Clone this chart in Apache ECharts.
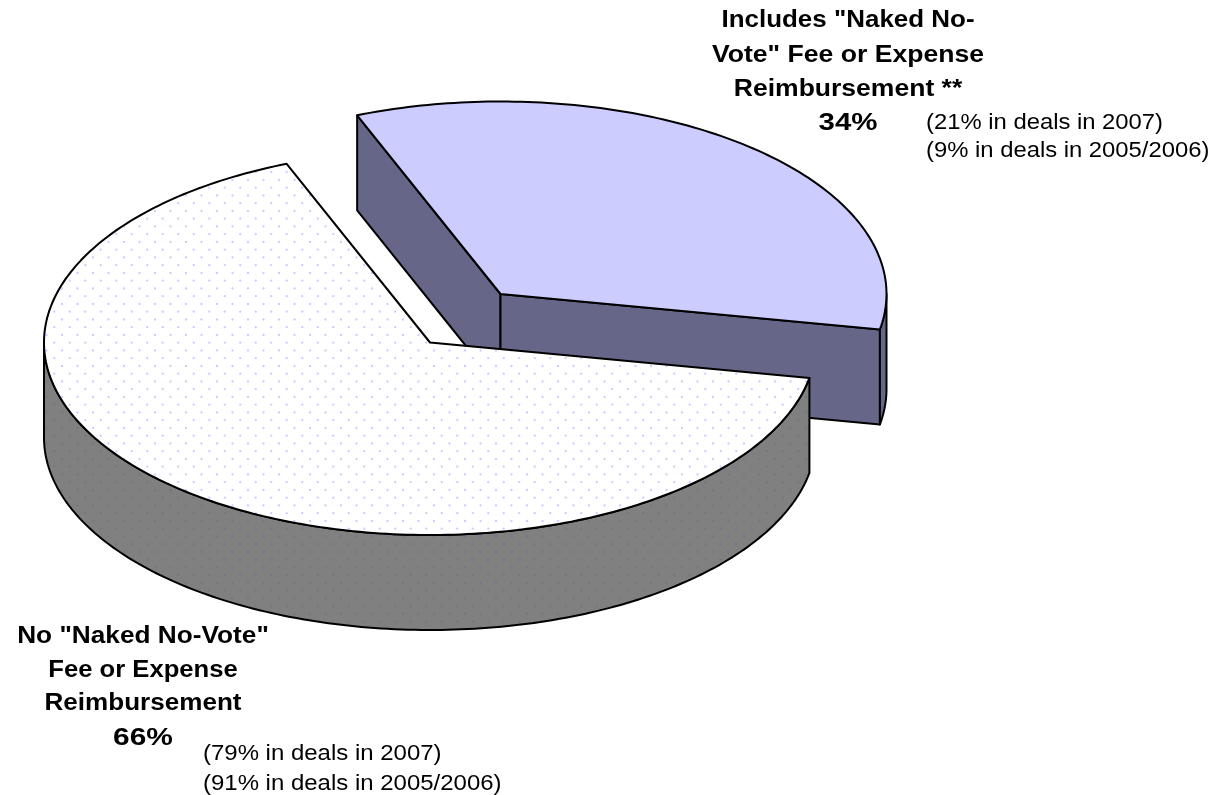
<!DOCTYPE html>
<html>
<head>
<meta charset="utf-8">
<style>html,body{margin:0;padding:0;background:#fff}#c{width:1218px;height:795px}</style>
<script src="https://cdn.jsdelivr.net/npm/echarts@6/dist/echarts.min.js"></script>
</head>
<body>
<div id="c"></div>
<script>
const sliceNames = ['Includes "Naked No-Vote" Fee or Expense Reimbursement **', 'No "Naked No-Vote" Fee or Expense Reimbursement'];
const sliceValues = [34, 66];
const upperLabelLines = ['Includes "Naked No-', 'Vote" Fee or Expense', 'Reimbursement **', '34%'];
const upperNoteLines = ['(21% in deals in 2007)', '(9% in deals in 2005/2006)'];
const lowerLabelLines = ['No "Naked No-Vote"', 'Fee or Expense', 'Reimbursement', '66%'];
const lowerNoteLines = ['(79% in deals in 2007)', '(91% in deals in 2005/2006)'];

const RX = 386, RY = 192.5, DEPTH = 95, START = 248.2;
const CENTERS = [[500.5, 294], [430, 342.5]];
const total = sliceValues.reduce((a, b) => a + b, 0);

function dots(bg, dot, r) {
  const cv = document.createElement('canvas');
  cv.width = 31; cv.height = 31;
  const c = cv.getContext('2d');
  c.fillStyle = bg; c.fillRect(0, 0, 31, 31);
  c.fillStyle = dot;
  for (let i = -1; i < 4; i++) for (let j = -1; j < 3; j++) {
    [[i * 15.5, 9.5 + j * 15.5], [7.75 + i * 15.5, 1.7 + j * 15.5]].forEach(p => {
      c.beginPath(); c.arc(p[0], p[1], r, 0, Math.PI * 2); c.fill();
    });
  }
  return { image: cv, repeat: 'repeat' };
}
const STYLES = [
  { top: '#ccccff', wall: '#666688' },
  { top: dots('#ffffff', '#ccccff', 1.15), wall: dots('#808080', '#74748c', 1.15) }
];

function pt(c, deg, dy) {
  const a = deg * Math.PI / 180;
  return [c[0] + RX * Math.cos(a), c[1] + RY * Math.sin(a) + (dy || 0)];
}
function arc(c, a0, a1, dy) {
  const out = [], n = Math.max(2, Math.ceil(Math.abs(a1 - a0)));
  for (let i = 0; i <= n; i++) out.push(pt(c, a0 + (a1 - a0) * i / n, dy));
  return out;
}
function poly(points, fill) {
  return { type: 'polygon', shape: { points }, silent: true,
    style: { fill, stroke: '#000', lineWidth: 2, lineJoin: 'round' } };
}
function renderSlice(params, api) {
  const i = params.dataIndex;
  let before = 0;
  for (let k = 0; k < i; k++) before += sliceValues[k];
  const a0 = START + before / total * 360;
  const a1 = a0 + api.value(0) / total * 360;
  const c = CENTERS[i], s = STYLES[i], children = [];
  const wall = (p, q) => poly([p, q, [q[0], q[1] + DEPTH], [p[0], p[1] + DEPTH]], s.wall);
  if (i === 0) {
    children.push(wall(pt(c, a0), c));
    children.push(wall(c, pt(c, a1)));
  }
  [0, 360].forEach(off => {
    const lo = Math.max(a0, off), hi = Math.min(a1, off + 180);
    if (hi > lo) children.push(poly(arc(c, lo, hi).concat(arc(c, hi, lo, DEPTH)), s.wall));
  });
  children.push(poly([c].concat(arc(c, a0, a1)), s.top));
  return { type: 'group', children };
}

function textLines(lines, x, ys, font, align, stretch) {
  return lines.map((t, k) => ({
    type: 'text', x, y: ys[k], scaleX: stretch[k], silent: true,
    style: { text: t, font, fill: '#000', align: align, verticalAlign: 'middle' }
  }));
}
const BOLD = 'bold 23px "Liberation Sans", Arial, sans-serif';
const NORM = '21.5px "Liberation Sans", Arial, sans-serif';

const chart = echarts.init(document.getElementById('c'), null, { renderer: 'canvas' });
chart.setOption({
  animation: false,
  backgroundColor: '#fff',
  series: [{
    type: 'custom',
    coordinateSystem: 'none',
    data: sliceValues.map((v, i) => ({ value: [v], name: sliceNames[i] })),
    renderItem: renderSlice,
    silent: true
  }],
  graphic: [].concat(
    textLines(upperLabelLines, 848, [21, 55.5, 89.5, 124], BOLD, 'center', [1.128, 1.155, 1.153, 1.28]),
    textLines(upperNoteLines, 926, [123.5, 151.5], NORM, 'left', [1.108, 1.108]),
    textLines(lowerLabelLines, 143, [637, 671, 704, 739], BOLD, 'center', [1.14, 1.115, 1.133, 1.3]),
    textLines(lowerNoteLines, 203, [754, 784], NORM, 'left', [1.115, 1.115])
  )
});
</script>
</body>
</html>
